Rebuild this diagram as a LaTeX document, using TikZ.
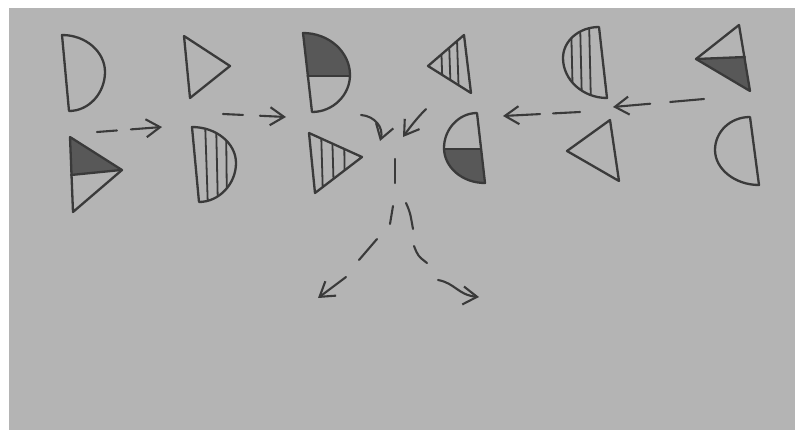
\documentclass[tikz,border=0pt]{standalone}
\usetikzlibrary{arrows.meta}
\definecolor{paper}{RGB}{180,180,180}
\definecolor{ink}{RGB}{58,58,58}
\definecolor{darkfill}{RGB}{88,88,88}
\begin{document}
\begin{tikzpicture}[x=1pt,y=-1pt,
  inkline/.style={draw=ink,line width=2.3pt,line join=round,line cap=round},
  stripe/.style={draw=ink,line width=1.8pt,line cap=round},
  arr/.style={draw=ink,line width=2.1pt,line cap=round,line join=round,-{Straight Barb[length=14pt,width=18pt]}},
  dashseg/.style={draw=ink,line width=2.1pt,line cap=round}]
\useasboundingbox (0,0) rectangle (795,434);
\fill[white] (0,0) rectangle (795,434);
\fill[paper] (9,8) rectangle (795,430);

% ---------- shape A: plain half disc, flat side left
\draw[inkline] (62,35) .. controls (86,35) and (105,52) .. (105,72)
  .. controls (105,93) and (89,111) .. (69,111) -- cycle;

% ---------- shape B: plain triangle pointing right
\draw[inkline] (184,36) -- (230,66) -- (190,98) -- cycle;

% ---------- shape C: triangle pointing right, top part filled
\fill[darkfill] (70,137) -- (121,170) -- (71,175) -- cycle;
\draw[inkline] (71,175) -- (121,170);
\draw[inkline] (70,137) -- (122,170) -- (73,212) -- cycle;

% ---------- shape D: striped half disc, flat side left
\begin{scope}
  \clip (192,127) .. controls (216,127) and (236,143) .. (236,163)
    .. controls (236,184) and (219,202) .. (199,202) -- cycle;
  \draw[stripe] (205,120) -- (208,210);
  \draw[stripe] (216,120) -- (218,210);
  \draw[stripe] (226,120) -- (227,210);
\end{scope}
\draw[inkline] (192,127) .. controls (216,127) and (236,143) .. (236,163)
  .. controls (236,184) and (219,202) .. (199,202) -- cycle;

% ---------- shape E: half disc, top quarter filled
\begin{scope}
  \clip (303,33) .. controls (329,33) and (350,52) .. (350,75)
    .. controls (350,95) and (333,112) .. (312,112) -- cycle;
  \fill[darkfill] (290,20) rectangle (360,76);
\end{scope}
\draw[inkline] (307.5,76) -- (350,76);
\draw[inkline] (303,33) .. controls (329,33) and (350,52) .. (350,75)
  .. controls (350,95) and (333,112) .. (312,112) -- cycle;

% ---------- shape F: striped triangle pointing left
\begin{scope}
  \clip (428,66) -- (464,35) -- (471,93) -- cycle;
  \draw[stripe] (441,40) -- (443,100);
  \draw[stripe] (449,40) -- (451,100);
  \draw[stripe] (457,40) -- (459,100);
\end{scope}
\draw[inkline] (428,66) -- (464,35) -- (471,93) -- cycle;

% ---------- shape G: striped triangle pointing right
\begin{scope}
  \clip (309,133) -- (362,157) -- (315,193) -- cycle;
  \draw[stripe] (321,128) -- (323,198);
  \draw[stripe] (332,128) -- (334,198);
  \draw[stripe] (344,128) -- (345,198);
\end{scope}
\draw[inkline] (309,133) -- (362,157) -- (315,193) -- cycle;

% ---------- shape H: half disc, flat side right, bottom quarter filled
\begin{scope}
  \clip (477,113) .. controls (459,113) and (444,129) .. (444,148)
    .. controls (444,167) and (462,183) .. (485,183) -- cycle;
  \fill[darkfill] (430,149) rectangle (495,195);
\end{scope}
\draw[inkline] (444,149) -- (481,149);
\draw[inkline] (477,113) .. controls (459,113) and (444,129) .. (444,148)
  .. controls (444,167) and (462,183) .. (485,183) -- cycle;

% ---------- shape I: striped half disc, flat side right
\begin{scope}
  \clip (599,27) .. controls (579,27) and (563,41) .. (563,58)
    .. controls (563,80) and (583,98) .. (607,98) -- cycle;
  \draw[stripe] (571,20) -- (573,105);
  \draw[stripe] (580,20) -- (582,105);
  \draw[stripe] (589,20) -- (591,105);
\end{scope}
\draw[inkline] (599,27) .. controls (579,27) and (563,41) .. (563,58)
  .. controls (563,80) and (583,98) .. (607,98) -- cycle;

% ---------- shape J: triangle pointing left, bottom part filled
\fill[darkfill] (696,59) -- (745,57) -- (750,91) -- cycle;
\draw[inkline] (696,59) -- (745,57);
\draw[inkline] (739,25) -- (696,59) -- (750,91) -- cycle;

% ---------- shape K: plain triangle pointing left
\draw[inkline] (610,120) -- (567,151) -- (619,181) -- cycle;

% ---------- shape L: plain half disc, flat side right
\draw[inkline] (750,117) .. controls (730,117) and (715,132) .. (715,150)
  .. controls (715,169) and (735,185) .. (759,185) -- cycle;

% ---------- arrows
\coordinate (a1s) at (97,132);  \coordinate (a1e) at (162,127);
\coordinate (a2s) at (223,114); \coordinate (a2e) at (286,117);
\coordinate (a3s) at (704,99);  \coordinate (a3e) at (613,107);
\coordinate (a4s) at (580,112); \coordinate (a4e) at (503,116);
\coordinate (a5s) at (361,115); \coordinate (a5e) at (380,141);
\coordinate (a6s) at (426,109); \coordinate (a6e) at (403,137);

\draw[arr,dash pattern=on 20pt off 14pt on 80pt] (a1s) -- (a1e);
\draw[arr,dash pattern=on 20pt off 17pt on 80pt] (a2s) -- (a2e);
\draw[arr,dash pattern=on 34pt off 20pt on 80pt] (a3s) -- (a3e);
\draw[arr,dash pattern=on 27pt off 13pt on 80pt] (a4s) -- (a4e);
\draw[arr] (a5s) .. controls (375,116) and (384,128) .. (a5e);
\draw[arr] (a6s) .. controls (418,117) and (410,127) .. (a6e);

% ---------- splitting path downwards
\coordinate (s1a) at (395,159); \coordinate (s1b) at (395,183);
\coordinate (l1a) at (393,206); \coordinate (l1b) at (390,224);
\coordinate (l2a) at (377,239); \coordinate (l2b) at (359,260);
\coordinate (l3a) at (346,277); \coordinate (l3b) at (318,298);
\coordinate (r1a) at (406,203); \coordinate (r1b) at (413,229);
\coordinate (r2a) at (414,246); \coordinate (r2b) at (427,263);
\coordinate (r3a) at (438,280); \coordinate (r3b) at (479,297);

\draw[dashseg] (s1a) -- (s1b);
\draw[dashseg] (l1a) -- (l1b);
\draw[dashseg] (l2a) -- (l2b);
\draw[arr] (l3a) -- (l3b);
\draw[dashseg] (r1a) .. controls (410,212) .. (r1b);
\draw[dashseg] (r2a) .. controls (418,256) .. (r2b);
\draw[arr] (r3a) .. controls (455,283) and (458,295) .. (r3b);
\end{tikzpicture}
\end{document}
